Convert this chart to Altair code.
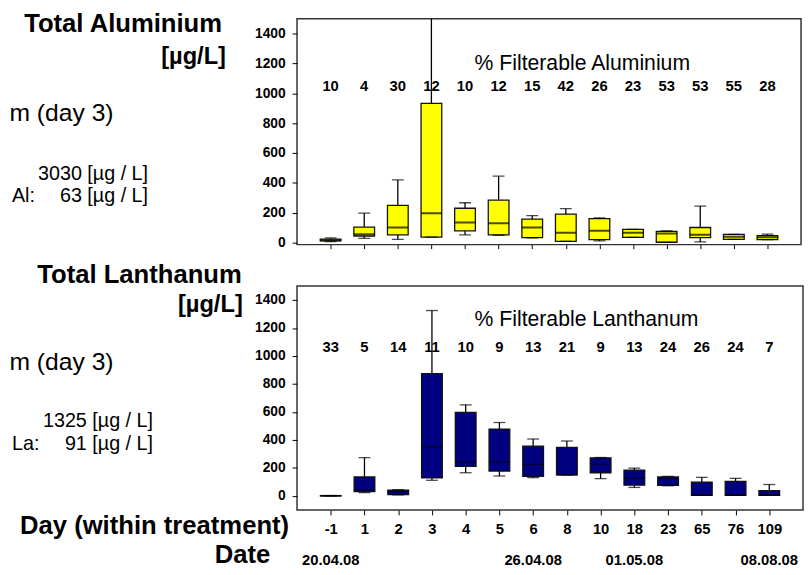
import altair as alt
import pandas as pd

# ---------------- data ----------------
days = ["-1", "1", "2", "3", "4", "5", "6", "8", "10", "18", "23", "65", "76", "109"]

al_min = [5, 27, 21, 36, 50, 48, 30, 7, 10, 34, 0, 3, 21, 19]
al_q1 = [10, 43, 50, 36, 78, 50, 32, 7, 19, 34, 1, 32, 21, 19]
al_med = [15, 54, 100, 196, 133, 129, 100, 65, 78, 65, 60, 52, 38, 34]
al_q3 = [22, 103, 249, 932, 229, 284, 156, 189, 160, 87, 74, 100, 54, 45]
al_max = [30, 196, 419, 3030, 266, 445, 180, 226, 165, 87, 78, 244, 54, 56]
al_pct = [10, 4, 30, 12, 10, 12, 15, 42, 26, 23, 53, 53, 55, 28]

la_min = [0, 24, 8, 112, 166, 143, 131, 150, 124, 61, 73, 5, 5, 5]
la_q1 = [0, 31, 10, 129, 211, 178, 140, 150, 166, 77, 75, 5, 5, 5]
la_med = [0, 42, 31, 349, 244, 244, 225, 150, 227, 129, 124, 5, 5, 8]
la_q3 = [3, 136, 42, 874, 597, 478, 356, 347, 272, 185, 136, 98, 105, 38]
la_max = [3, 274, 45, 1325, 651, 525, 407, 393, 275, 199, 140, 133, 126, 82]
la_pct = [33, 5, 14, 11, 10, 9, 13, 21, 9, 13, 24, 26, 24, 7]

date_labels = ["20.04.08", "26.04.08", "01.05.08", "08.08.08"]
date_days = ["-1", "6", "18", "109"]

y_ticks = [0, 200, 400, 600, 800, 1000, 1200, 1400]

FONT = "Liberation Sans"


def label(text, x, y, size, bold=False, align="left"):
    return alt.Chart(pd.DataFrame({"t": [text]})).mark_text(
        font=FONT, fontSize=size, fontWeight="bold" if bold else "normal",
        align=align, baseline="middle", color="black"
    ).encode(x=alt.value(x), y=alt.value(y), text="t:N")


def anchor(y1, y2):
    return alt.Chart(pd.DataFrame({"a": [0]})).mark_rect(opacity=0).encode(
        x=alt.value(-290), x2=alt.value(-289), y=alt.value(y1), y2=alt.value(y2)
    )


def panel(lo, q1, med, q3, hi, pct, fill, ydom, pct_y, show_labels, med_width):
    df = pd.DataFrame({"day": days, "lo": lo, "q1": q1, "med": med,
                       "q3": q3, "hi": hi, "pct": pct})
    base = alt.Chart(df)
    xaxis = alt.Axis(labels=show_labels, ticks=True, tickSize=5 if show_labels else 4,
                     tickColor="black", domain=False, grid=False, title=None,
                     labelFont=FONT, labelFontSize=15, labelFontWeight="bold",
                     labelColor="black", labelPadding=7, labelAngle=0)
    x = alt.X("day:N", scale=alt.Scale(type="point", padding=1, domain=days),
              axis=xaxis, title=None)
    ysc = alt.Scale(domain=ydom, nice=False, zero=False)
    yaxis = alt.Axis(values=y_ticks, format="d", grid=False, domain=False,
                     tickSize=5, tickColor="black", labelFont=FONT,
                     labelFontSize=14, labelFontWeight="bold",
                     labelColor="black", labelPadding=7, title=None)

    def Y(f):
        return alt.Y(f, scale=ysc, axis=yaxis, title=None)

    whisk = base.mark_rule(color="black", strokeWidth=1.3, clip=True).encode(
        x=x, y=Y("lo:Q"), y2="hi:Q")
    box = base.mark_bar(size=21, fill=fill, stroke="#111111", strokeWidth=1.3,
                        clip=True).encode(x=x, y=Y("q1:Q"), y2="q3:Q")
    mline = base.mark_tick(size=21, thickness=med_width, color="black",
                           clip=True).encode(x=x, y=Y("med:Q"))
    cap_hi = base.mark_tick(size=12, thickness=1.3, color="black",
                            clip=True).encode(x=x, y=Y("hi:Q"))
    cap_lo = base.mark_tick(size=12, thickness=1.3, color="black",
                            clip=True).encode(x=x, y=Y("lo:Q"))
    nums = base.mark_text(font=FONT, fontSize=15, fontWeight="bold",
                          color="black", baseline="middle").encode(
        x=x, y=alt.value(pct_y), text="pct:Q")
    return [whisk, box, mline, cap_hi, cap_lo, nums], x


# ---------------- top panel: aluminium ----------------
top_layers, _ = panel(al_min, al_q1, al_med, al_q3, al_max, al_pct, "#FFFF00",
                      [-15, 1500], 68, False, 2)
top_text = [
    anchor(-9, 241),
    label("Total Aluminium", -76, 5, 26, True, "right"),
    label("[µg/L]", -72, 39, 24, True, "right"),
    label("m (day 3)", -186, 96, 25, False, "right"),
    label("3030 [µg / L]", -151, 157, 20, False, "right"),
    label("Al:", -289, 180, 20, False, "left"),
    label("63 [µg / L]", -151, 180, 20, False, "right"),
    label("% Filterable Aluminium", 180, 46, 21.5, False, "left"),
]
top = alt.layer(*top_layers, *top_text).properties(width=511, height=229)

# ---------------- bottom panel: lanthanum ----------------
bot_layers, xb = panel(la_min, la_q1, la_med, la_q3, la_max, la_pct, "#000080",
                       [-100, 1500], 62, True, 1.2)
date_df = pd.DataFrame({"day": date_days, "lab": date_labels})
dates = alt.Chart(date_df).mark_text(
    font=FONT, fontSize=15, fontWeight="bold", color="black", baseline="middle"
).encode(x=xb, y=alt.value(278), text="lab:N")
bot_text = [
    anchor(-26, 0),
    label("Total Lanthanum", -56, -11, 26, True, "right"),
    label("[µg/L]", -55, 19, 24, True, "right"),
    label("m (day 3)", -186, 77, 25, False, "right"),
    label("1325 [µg / L]", -146, 137, 20, False, "right"),
    label("La:", -289, 160, 20, False, "left"),
    label("91 [µg / L]", -146, 160, 20, False, "right"),
    label("Day (within treatment)", -8, 243, 26, True, "right"),
    label("Date", -27, 273, 26, True, "right"),
    label("% Filterable Lanthanum", 180, 34, 21.5, False, "left"),
]
bottom = alt.layer(*bot_layers, dates, *bot_text).properties(width=513, height=227)

chart = alt.vconcat(top, bottom, spacing=2).properties(
    padding={"top": -3, "left": 0, "right": 0, "bottom": 0}, background="white"
).configure_view(stroke="#333333", strokeWidth=1.5)

chart.save("out.html", embed_options={"renderer": "svg", "actions": False})
